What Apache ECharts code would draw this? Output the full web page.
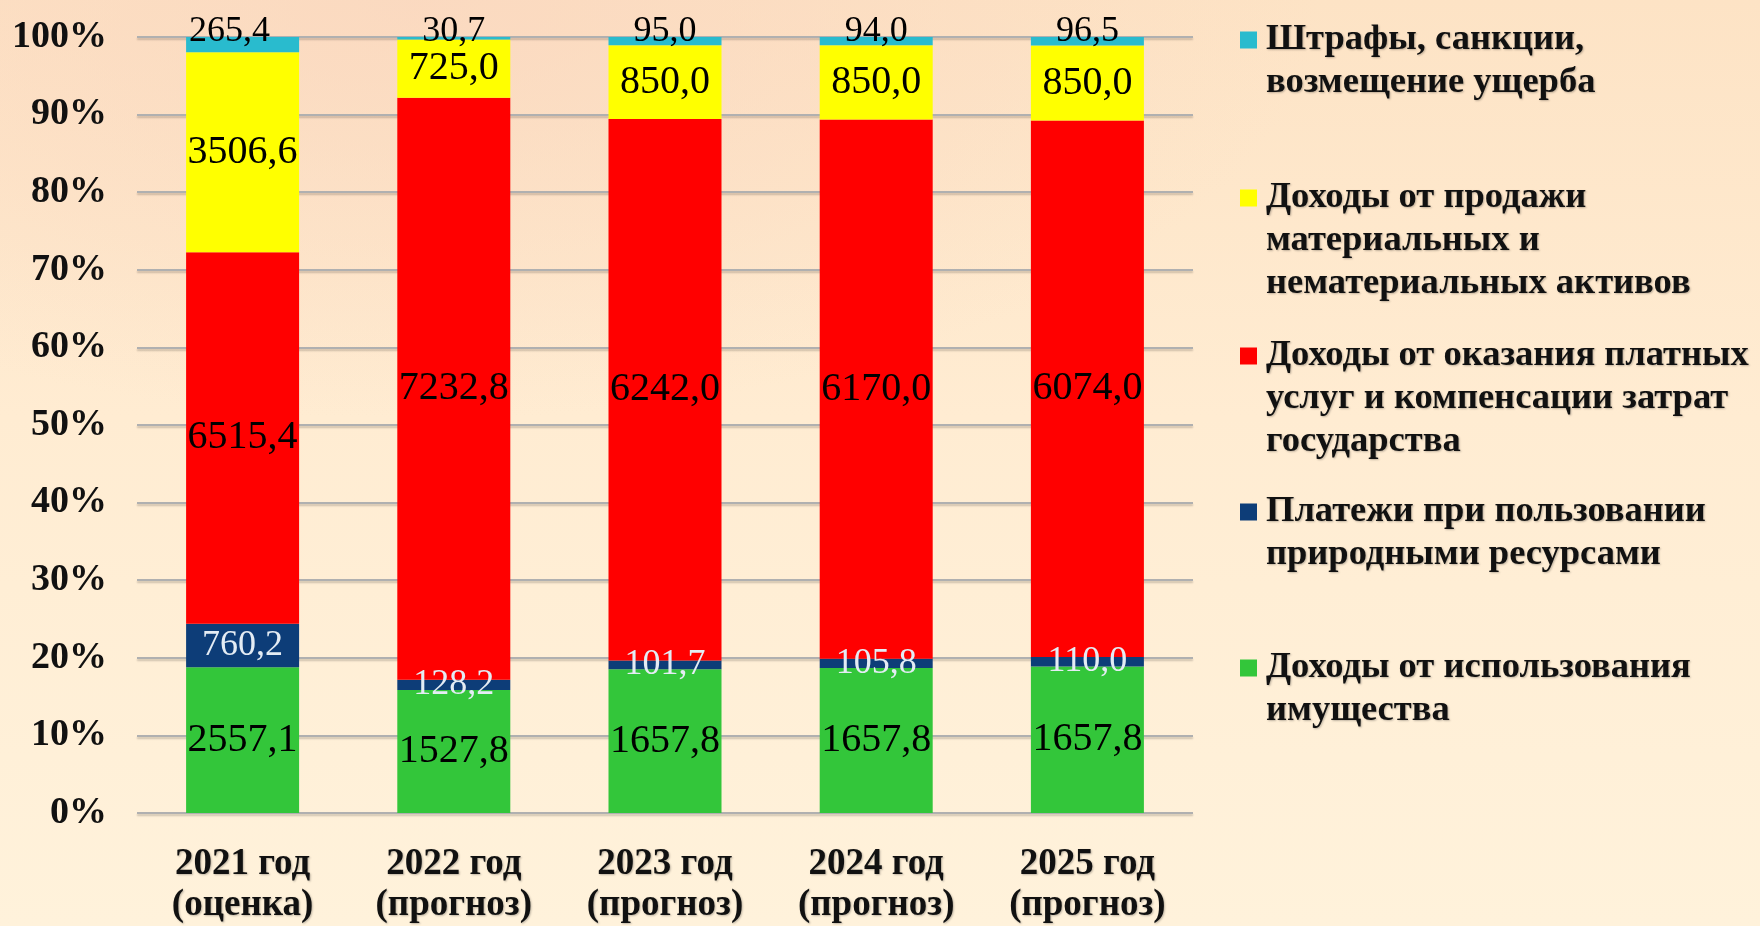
<!DOCTYPE html>
<html>
<head>
<meta charset="utf-8">
<script src="https://cdn.jsdelivr.net/npm/echarts@6/dist/echarts.min.js"></script>
<style>
    html, body { margin: 0; padding: 0; }
    body {
        width: 1760px; height: 926px; overflow: hidden;
        background:
            radial-gradient(ellipse 900px 420px at 420px 0px, rgba(250, 214, 190, 0.75), rgba(250, 214, 190, 0) 100%),
            linear-gradient(180deg, #FDE3C5 0%, #FFECD2 45%, #FFF2DB 100%);
    }
    #chart { width: 1760px; height: 926px; }
</style>
</head>
<body>
<div id="chart"></div>
<script>
// категории (годы)
const categories = ['2021 год\n(оценка)', '2022 год\n(прогноз)', '2023 год\n(прогноз)', '2024 год\n(прогноз)', '2025 год\n(прогноз)'];

// значения, снизу вверх
const imushchestvo = [2557.1, 1527.8, 1657.8, 1657.8, 1657.8];
const prirodnye = [760.2, 128.2, 101.7, 105.8, 110.0];
const platnye = [6515.4, 7232.8, 6242.0, 6170.0, 6074.0];
const prodazha = [3506.6, 725.0, 850.0, 850.0, 850.0];
const shtrafy = [265.4, 30.7, 95.0, 94.0, 96.5];

// подписи легенды (строки)
const legendLines = [
    ['Штрафы, санкции,', 'возмещение ущерба'],
    ['Доходы от продажи', 'материальных и', 'нематериальных активов'],
    ['Доходы от оказания платных', 'услуг и компенсации затрат', 'государства'],
    ['Платежи при пользовании', 'природными ресурсами'],
    ['Доходы от использования', 'имущества']
];
const legendLineY = [40, 198, 356, 512, 668];

const yTicks = [0, 10, 20, 30, 40, 50, 60, 70, 80, 90, 100];

const FONT = '"Liberation Serif", "Times New Roman", serif';

var chartDom = document.getElementById('chart');
var myChart = echarts.init(chartDom);

const rows = [imushchestvo, prirodnye, platnye, prodazha, shtrafy];
const totals = categories.map((c, i) => rows.reduce((s, r) => s + r[i], 0));

function fmt(v) {
    return v.toFixed(1).replace('.', ',');
}

const seriesDefs = [
    { name: legendLines[4].join(' '), vals: imushchestvo, color: '#33C63A', size: 40, text: '#000' },
    { name: legendLines[3].join(' '), vals: prirodnye, color: '#0D3D78', size: 36, text: '#E4ECF4' },
    { name: legendLines[2].join(' '), vals: platnye, color: '#FF0000', size: 40, text: '#000' },
    { name: legendLines[1].join(' '), vals: prodazha, color: '#FFFF00', size: 40, text: '#000' },
    { name: legendLines[0].join(' '), vals: shtrafy, color: '#29BBCE', size: 36, text: '#000', top: true }
];

const series = seriesDefs.map(d => ({
    name: d.name,
    type: 'bar',
    stack: 'total',
    barWidth: 113,
    data: d.vals.map((v, i) => {
        const item = { value: v / totals[i] * 100 };
        // подпись 265,4 в оригинале сдвинута влево
        if (d.top && i === 0) item.label = { offset: [-13, 0] };
        return item;
    }),
    itemStyle: { color: d.color },
    label: {
        show: true,
        position: d.top ? 'top' : 'inside',
        distance: d.top ? -13 : 5,
        fontFamily: FONT,
        fontSize: d.size,
        color: d.text,
        formatter: p => fmt(d.vals[p.dataIndex])
    },
    emphasis: { disabled: true }
}));

// отдельная легенда на каждую серию, чтобы повторить расстановку
const legends = legendLines.map((lines, k) => {
    const n = lines.length;
    const pad = new Array(n - 1).fill('');
    return {
        data: [lines.join(' ')],
        orient: 'vertical',
        left: 1240,
        top: legendLineY[k] - (n - 1) * 43 - 21.5,
        padding: 0,
        icon: 'rect',
        itemWidth: 17,
        itemHeight: 17,
        selectedMode: false,
        formatter: () => pad.concat(lines).join('\n'),
        textStyle: {
            fontFamily: FONT,
            fontSize: 36.5,
            fontWeight: 'bold',
            lineHeight: 43,
            color: '#111',
            padding: [0, 0, 0, 4],
            textShadowColor: 'rgba(0,0,0,0.25)',
            textShadowBlur: 2,
            textShadowOffsetX: 1,
            textShadowOffsetY: 1
        }
    };
});

var option = {
    animation: false,
    backgroundColor: 'transparent',
    legend: legends,
    grid: { left: 137, right: 567, top: 37, bottom: 105, containLabel: false },
    xAxis: {
        type: 'category',
        data: categories,
        axisLine: { show: false },
        axisTick: { show: false },
        axisLabel: {
            margin: 31,
            fontFamily: FONT,
            fontSize: 37,
            fontWeight: 'bold',
            lineHeight: 41,
            color: '#111',
            textShadowColor: 'rgba(0,0,0,0.25)',
            textShadowBlur: 2,
            textShadowOffsetX: 1,
            textShadowOffsetY: 1
        }
    },
    yAxis: {
        type: 'value',
        min: yTicks[0],
        max: yTicks[yTicks.length - 1],
        interval: yTicks[1] - yTicks[0],
        axisLine: { show: false },
        axisTick: { show: false },
        axisLabel: {
            margin: 30,
            fontFamily: FONT,
            fontSize: 38,
            fontWeight: 'bold',
            color: '#111',
            formatter: '{value}%'
        },
        splitLine: {
            lineStyle: {
                color: '#B0B0B0',
                width: 2,
                shadowColor: 'rgba(0,0,0,0.2)',
                shadowBlur: 2,
                shadowOffsetY: 2
            }
        }
    },
    series: series
};

myChart.setOption(option);
</script>
</body>
</html>
